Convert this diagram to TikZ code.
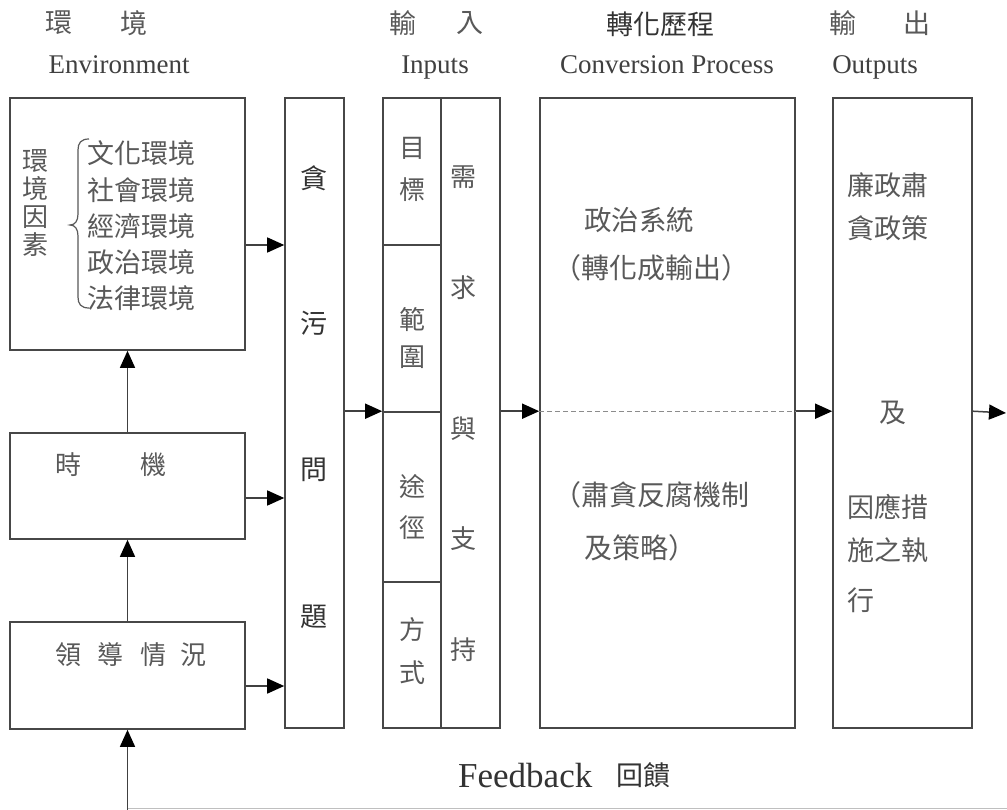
\documentclass[tikz,border=0pt]{standalone}
\usepackage{fontspec}
\setmainfont{Liberation Serif}
\newfontfamily\cjk{Noto Sans CJK TC}
\usetikzlibrary{arrows.meta}
\begin{document}
\begin{tikzpicture}[x=1pt,y=-1pt,
  box/.style={draw=black!72, line width=1.6pt, inner sep=0pt, rectangle},
  arr/.style={draw=black!75, line width=1.5pt, -{Triangle[length=17pt,width=15pt,color=black]}},
  zh/.style={inner sep=0pt, text=black!65, font=\cjk\fontsize{26}{30}\selectfont},
  zhk/.style={inner sep=0pt, text=black!80, font=\cjk\fontsize{27}{30}\selectfont},
  en/.style={inner sep=0pt, anchor=base, text=black!75, font=\fontsize{27}{30}\selectfont},
]
\useasboundingbox (0,0) rectangle (1007,810);
\fill[white] (0,0) rectangle (1007,810);

% headers
\node[zh, font=\cjk\fontsize{27}{30}\selectfont] (h1a) at (59,23) {環};
\node[zh, font=\cjk\fontsize{27}{30}\selectfont] (h1b) at (134,23) {境};
\node[en] (h1e) at (119,74) {Environment};
\node[zh, font=\cjk\fontsize{27}{30}\selectfont] (h2a) at (403,23) {輸};
\node[zh, font=\cjk\fontsize{27}{30}\selectfont] (h2b) at (470,23) {入};
\node[en] (h2e) at (435,74) {Inputs};
\node[zhk] (h3) at (660,24) {轉化歷程};
\node[en] (h3e) at (667,74) {Conversion Process};
\node[zh, font=\cjk\fontsize{27}{30}\selectfont] (h4a) at (843,23) {輸};
\node[zh, font=\cjk\fontsize{27}{30}\selectfont] (h4b) at (917,23) {出};
\node[en] (h4e) at (875,74) {Outputs};

% boxes
\node[box, minimum width=235, minimum height=252] (env) at (127.5,224) {};
\node[box, minimum width=235, minimum height=106] (tim) at (127.5,486) {};
\node[box, minimum width=235, minimum height=107] (lead) at (127.5,675.5) {};
\node[box, minimum width=59, minimum height=630] (corr) at (314.5,413) {};
\node[box, minimum width=58, minimum height=147] (in1) at (412,171.5) {};
\node[box, minimum width=58, minimum height=167] (in2) at (412,328.5) {};
\node[box, minimum width=58, minimum height=170] (in3) at (412,497) {};
\node[box, minimum width=58, minimum height=146] (in4) at (412,655) {};
\node[box, minimum width=59, minimum height=630] (inR) at (470.5,413) {};
\node[box, minimum width=255, minimum height=630] (conv) at (667.5,413) {};
\node[box, minimum width=139, minimum height=630] (out) at (902.5,413) {};

% environment box text
\node[zh, align=center, font=\cjk\fontsize{26}{28}\selectfont] (envf) at (35,203) {環\\境\\因\\素};
\node[zh, align=left, font=\cjk\fontsize{27}{36.3}\selectfont] (envl) at (141,226) {文化環境\\社會環境\\經濟環境\\政治環境\\法律環境};
\draw[draw=black!65, line width=1.2pt] (89,139) .. controls (81,139) and (78,143) .. (78,150) -- (78,214)
  .. controls (78,221) and (75,225) .. (70,225) .. controls (75,225) and (78,229) .. (78,236)
  -- (78,297) .. controls (78,304) and (81,308) .. (89,308);

% timing & leadership
\node[zh] (t1) at (68,465) {時};
\node[zh] (t2) at (153,465) {機};
\node[zh] (l1) at (68,655) {領};
\node[zh] (l2) at (110,655) {導};
\node[zh] (l3) at (153,655) {情};
\node[zh] (l4) at (193,655) {況};

% corruption issue
\node[zhk] (c1) at (313.5,178) {貪};
\node[zhk] (c2) at (313.5,323) {污};
\node[zhk] (c3) at (313.5,470) {問};
\node[zhk] (c4) at (313.5,617) {題};

% inputs
\node[zh] (i1) at (412,148) {目};
\node[zh] (i2) at (412,190) {標};
\node[zh] (i3) at (412,320) {範};
\node[zh] (i4) at (412,357) {圍};
\node[zh] (i5) at (412,487) {途};
\node[zh] (i6) at (412,528) {徑};
\node[zh] (i7) at (412,630) {方};
\node[zh] (i8) at (412,673) {式};
\node[zh] (r1) at (463,177) {需};
\node[zh] (r2) at (463,288) {求};
\node[zh] (r3) at (463,429) {與};
\node[zh] (r4) at (463,539) {支};
\node[zh] (r5) at (463,650) {持};

% conversion
\node[zh, anchor=west, font=\cjk\fontsize{27.5}{30}\selectfont] (p1) at (584,220) {政治系統};
\node[zh, anchor=west, font=\cjk\fontsize{28}{30}\selectfont] (p2) at (553,268) {（轉化成輸出）};
\node[zh, anchor=west, font=\cjk\fontsize{28}{30}\selectfont] (p3) at (553,495) {（肅貪反腐機制};
\node[zh, anchor=west, font=\cjk\fontsize{28}{30}\selectfont] (p4) at (584,548) {及策略）};

% outputs
\node[zh, anchor=west, font=\cjk\fontsize{27}{30}\selectfont] (o1) at (847,185) {廉政肅};
\node[zh, anchor=west, font=\cjk\fontsize{27}{30}\selectfont] (o2) at (847,228) {貪政策};
\node[zh, font=\cjk\fontsize{27}{30}\selectfont] (o3) at (893,413) {及};
\node[zh, anchor=west, font=\cjk\fontsize{27}{30}\selectfont] (o4) at (847,507) {因應措};
\node[zh, anchor=west, font=\cjk\fontsize{27}{30}\selectfont] (o5) at (847,550) {施之執};
\node[zh, anchor=west, font=\cjk\fontsize{27}{30}\selectfont] (o6) at (847,600) {行};

% feedback label
\node[inner sep=0pt, anchor=base west, text=black!80, font=\fontsize{35}{40}\selectfont] (fb) at (458,787) {Feedback};
\node[zhk, font=\cjk\fontsize{27}{30}\selectfont, anchor=west] (fbz) at (616,775) {回饋};

% arrows into corruption box
\path ([yshift=-21pt]env.east) coordinate (e1);
\draw[arr] (e1) -- (corr.west |- e1);
\path ([yshift=-12pt]tim.east) coordinate (e2);
\draw[arr] (e2) -- (corr.west |- e2);
\path ([yshift=-10.5pt]lead.east) coordinate (e3);
\draw[arr] (e3) -- (corr.west |- e3);

% vertical arrows
\draw[arr] (tim.north) -- (env.south);
\draw[arr] (lead.north) -- (tim.south);

% main flow
\draw[arr] (corr.east |- in3.north west) -- (in3.north west);
\draw[arr] (inR.east |- in3.north west) -- (conv.west |- in3.north west);
\draw[draw=black!45, line width=0.9pt, dash pattern=on 5pt off 3pt] (conv.west |- in3.north west) -- (conv.east |- in3.north west);
\draw[arr] (conv.east |- in3.north west) -- (out.west |- in3.north west);
\coordinate (outend) at (1006,413);
\draw[arr] (out.east |- in3.north west) -- (outend);

% feedback
\coordinate (fbR) at (1007,808.5);
\coordinate (fbL) at (127.5,808.5);
\draw[draw=black!25, line width=1pt] (fbR) -- (fbL);
\draw[arr] (fbL) ++(0,2) -- (lead.south);
\end{tikzpicture}
\end{document}
